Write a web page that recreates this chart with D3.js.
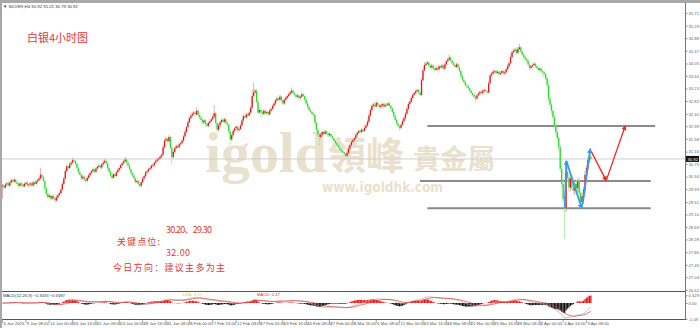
<!DOCTYPE html>
<html><head><meta charset="utf-8">
<script src="https://cdn.jsdelivr.net/npm/d3@7"></script>
<style>body{margin:0;background:#fff}svg{display:block}</style>
</head><body>
<svg id="c" width="700" height="328"></svg>
<script>
// ---------- data ----------
const firstOpen = 30.02;
const closes = [
30.05,29.98,30.08,30.12,30.05,30.15,30.22,30.18,30.24,30.16,
30.10,30.04,30.12,30.08,30.02,30.10,30.14,30.06,30.08,30.12,
30.05,30.15,30.10,30.18,30.22,30.28,30.40,30.33,30.20,29.95,
29.78,29.67,29.72,29.62,29.70,29.64,29.56,29.66,29.74,29.80,
29.92,30.10,30.28,30.52,30.68,30.62,30.74,30.80,30.88,30.84,
30.76,30.62,30.48,30.40,30.28,30.34,30.24,30.20,30.30,30.38,
30.46,30.52,30.58,30.50,30.60,30.66,30.70,30.64,30.74,30.80,
30.86,30.78,30.62,30.50,30.38,30.30,30.42,30.36,30.48,30.56,
30.62,30.72,30.78,30.84,30.90,30.80,30.70,30.58,30.46,30.38,
30.28,30.16,30.20,30.10,30.04,30.16,30.28,30.36,30.48,30.52,
30.58,30.62,30.70,30.72,30.80,30.86,30.90,30.94,31.00,31.06,
31.30,31.52,31.58,31.50,31.64,31.30,30.98,31.15,31.28,31.34,
31.30,31.40,31.44,31.52,31.66,31.80,31.96,32.12,32.26,32.34,
32.40,32.44,32.38,32.50,32.36,32.28,32.20,32.12,32.18,32.06,
32.00,32.10,32.16,32.22,32.30,32.42,32.10,31.88,32.02,32.12,
32.20,32.14,32.22,32.10,32.04,31.82,31.56,31.70,31.84,31.92,
31.98,31.86,31.90,32.02,32.18,32.32,32.28,32.38,32.34,32.44,
32.60,32.98,33.10,33.16,32.80,32.44,32.52,32.46,32.40,32.50,
32.42,32.46,32.38,32.50,32.56,32.66,32.74,32.84,32.90,32.86,
32.96,32.84,32.74,32.86,32.92,32.98,33.04,33.10,33.16,33.08,
33.02,32.96,33.00,32.92,32.96,33.04,32.98,32.86,32.74,32.62,
32.52,32.46,32.40,32.36,32.10,31.88,31.72,31.64,31.72,31.80,
31.74,31.82,31.76,31.70,31.74,31.66,31.60,31.52,31.44,31.38,
31.30,31.24,31.18,31.14,31.08,31.02,31.12,31.26,31.38,31.48,
31.54,31.60,31.70,31.78,31.84,31.80,31.88,31.84,31.94,32.02,
32.14,32.34,32.52,32.66,32.70,32.64,32.76,32.70,32.62,32.66,
32.72,32.64,32.70,32.68,32.74,32.66,32.58,32.46,32.32,32.20,
32.08,32.00,31.94,32.04,32.16,32.26,32.40,32.56,32.72,32.80,
32.92,33.02,33.08,33.14,33.18,33.10,33.02,33.50,33.82,34.00,
34.04,34.08,33.98,33.92,33.98,33.88,33.84,33.90,33.86,33.96,
33.92,33.98,33.88,34.02,34.12,34.18,34.24,34.14,34.06,34.00,
33.94,34.02,33.92,33.80,33.64,33.52,33.44,33.34,33.30,33.24,
33.16,33.08,33.02,32.96,32.90,33.00,33.06,33.12,33.08,33.16,
33.18,33.14,33.10,33.40,33.66,33.72,33.78,33.80,33.74,33.78,
33.70,33.74,33.80,33.72,33.76,33.86,33.96,34.06,34.26,34.42,
34.46,34.50,34.40,34.52,34.58,34.44,34.34,34.26,34.20,34.14,
34.02,33.90,33.96,34.00,34.04,33.96,33.90,33.84,33.88,33.80,
33.76,33.70,33.56,33.34,32.90,32.70,32.50,32.30,32.00,31.80,
31.60,31.30,30.60,30.10,29.60,29.30,30.50,30.30,29.98,30.28,
30.00,29.88,30.10,29.96,30.18,29.80,29.50,29.70,29.92,30.40,
30.62,30.88,31.00,30.92];
// upper / lower wick lengths, in cents
const upperWick = [
5,3,6,4,7,3,5,4,6,3,4,5,3,6,4,5,3,7,4,5,
4,6,3,5,4,6,22,5,4,3,5,4,6,3,5,4,3,6,4,5,
3,6,5,8,6,4,7,5,8,4,5,3,4,6,3,5,4,3,6,5,
4,5,6,3,5,4,6,5,4,7,6,4,3,5,4,3,6,4,5,6,
5,4,6,5,8,4,3,5,4,3,5,4,3,4,3,5,6,4,5,4,
5,6,4,5,3,6,5,4,6,5,8,6,7,4,6,3,5,6,4,5,
4,5,3,6,5,7,4,6,5,4,6,5,4,10,3,4,5,3,5,4,
5,4,6,5,8,26,4,3,6,5,4,5,6,3,4,3,5,4,6,5,
4,3,5,6,5,7,4,5,6,5,8,20,30,6,4,3,5,4,6,5,
4,5,3,6,5,4,6,5,7,4,6,3,4,5,6,5,4,6,10,4,
5,4,6,3,5,6,4,3,5,4,5,4,3,4,3,5,4,6,5,4,
5,6,4,3,5,4,3,5,4,3,4,5,3,4,3,5,6,5,6,4,
5,4,6,5,4,6,5,4,6,5,8,6,7,5,8,4,6,5,4,6,
5,4,6,5,4,6,3,4,3,4,5,3,4,5,6,5,6,7,6,5,
6,5,4,6,5,4,3,8,10,8,6,5,4,5,6,4,5,6,4,5,
4,6,5,6,5,7,10,5,4,6,5,6,4,3,4,3,5,4,3,4,
5,4,3,4,5,6,5,4,6,5,4,5,3,8,6,5,6,4,5,6,
4,6,5,4,6,5,7,6,8,6,7,5,6,7,12,4,3,4,5,4,
5,6,4,5,6,4,5,4,6,5,4,5,4,6,8,10,6,5,6,8,
10,8,10,12,10,15,30,15,12,14,10,12,10,12,10,14,10,12,10,12,
10,12,20,8];
const lowerWick = [
40,5,3,6,4,5,3,6,4,5,3,4,6,5,4,3,5,4,6,3,
5,4,6,3,5,4,5,6,4,8,6,5,4,6,5,6,10,4,5,3,
5,4,3,5,4,6,3,5,4,5,6,5,4,3,6,4,5,6,3,4,
5,3,4,6,5,3,4,6,5,3,4,5,6,4,5,6,3,5,4,3,
5,4,3,5,4,6,5,4,6,5,4,5,3,5,6,4,5,3,4,5,
4,3,5,4,6,3,4,5,3,4,5,3,4,6,3,5,22,4,5,3,
5,4,6,3,4,5,3,4,3,5,4,6,5,4,6,5,4,6,3,5,
4,5,3,4,5,4,6,10,4,5,3,5,4,6,5,8,18,5,4,5,
4,6,5,3,4,5,3,4,5,3,5,4,3,5,6,5,4,20,5,4,
5,4,6,3,5,4,3,5,4,6,3,5,6,4,3,5,4,3,5,4,
3,5,4,6,5,3,4,5,6,5,4,5,4,3,6,8,5,30,6,4,
5,3,4,6,5,4,5,6,4,5,4,5,6,4,6,14,4,3,5,4,
5,4,3,5,4,6,3,5,4,3,4,5,3,4,5,6,4,5,6,4,
5,3,4,5,3,4,6,5,6,5,6,4,10,5,3,4,5,3,4,5,
4,5,3,5,4,6,5,4,3,4,5,4,6,5,4,6,5,4,6,5,
5,4,6,5,4,3,5,4,6,5,4,5,6,5,6,5,4,5,6,5,
4,5,6,5,12,4,3,5,4,5,4,5,6,3,4,5,4,6,5,4,
5,4,6,5,4,3,4,5,3,4,5,4,6,5,4,6,5,4,6,5,
5,6,4,5,4,6,5,4,5,6,16,5,6,8,10,12,10,8,6,10,
12,14,12,15,12,100,12,15,14,12,10,12,14,10,12,15,20,12,10,12,
10,8,10,12];
const priceTicks = [35.71,35.29,34.88,34.47,34.05,33.64,33.23,32.82,32.40,31.99,31.58,31.16,30.75,30.34,29.93,29.51,29.10,28.69,28.28,27.86,27.45,27.04,26.62];
const timeLabels = ["6 Jan 2025","9 Jan 08:00","14 Jan 00:00","16 Jan 16:00","21 Jan 08:00","24 Jan 00:00","28 Jan 16:00","31 Jan 08:00","5 Feb 00:00","7 Feb 16:00","12 Feb 08:00","17 Feb 00:00","19 Feb 16:00","24 Feb 08:00","27 Feb 00:00","3 Mar 16:00","6 Mar 08:00","11 Mar 00:00","13 Mar 16:00","18 Mar 08:00","21 Mar 00:00","25 Mar 16:00","28 Mar 08:00","2 Apr 00:00","4 Apr 16:00","9 Apr 08:00"];
const barsPerLabel = 16;
const levels = [32.00, 30.20, 29.30];
const levelFrom = [291, 286, 291];
const levelTo = [447, 444, 444];
const blueArrows = [[[385.1,29.35],[386.2,30.85]],[[386.2,30.85],[396.8,29.30]],[[397.4,29.45],[402.6,31.25]]];
const redArrows = [[[403.3,31.16],[413.5,30.21]],[[413.5,30.21],[426.5,32.00]]];
const macdTicks = [0.529, 0.00, -1.09];
const headerText = "▼ SILVER,H4  30.92 31.21 30.79 30.92";
const lastPrice = 30.92;

// ---------- scales ----------
const svg = d3.select("#c");
const x = d3.scaleLinear().domain([0, 100]).range([2.5, 148.5]);
const y = d3.scaleLinear().domain([26, 36]).range([309, 4]);
const ym = d3.scaleLinear().domain([-1, 1]).range([317.5, 288.5]);
const axisX = 685;

// frame
svg.append("rect").attr("x",0).attr("y",0).attr("width",700).attr("height",3).attr("fill","#a8a8a8");
svg.append("rect").attr("x",0).attr("y",0).attr("width",2).attr("height",328).attr("fill","#a8a8a8");

// watermark
const wm = svg.append("g").attr("fill","#e9e1ce");
wm.append("text").attr("x",205).attr("y",172).attr("font-family","Liberation Serif").attr("font-weight","bold").attr("font-size",58).attr("textLength",122).attr("lengthAdjust","spacingAndGlyphs").text("igold");
wm.append("text").attr("x",328).attr("y",169).attr("font-family","Noto Sans CJK TC").attr("font-weight","bold").attr("font-size",38).attr("textLength",76).attr("lengthAdjust","spacingAndGlyphs").text("領峰");
wm.append("text").attr("x",413).attr("y",169).attr("font-family","Noto Sans CJK TC").attr("font-weight","bold").attr("font-size",27).attr("textLength",82).attr("lengthAdjust","spacingAndGlyphs").text("貴金屬");
wm.append("text").attr("x",322).attr("y",192).attr("font-family","DejaVu Sans").attr("font-weight","bold").attr("font-size",14).attr("textLength",121).attr("lengthAdjust","spacingAndGlyphs").text("www.igoldhk.com");

// bid line
svg.append("line").attr("x1",2).attr("x2",axisX).attr("y1",y(lastPrice)).attr("y2",y(lastPrice)).attr("stroke","#cfcfcf").attr("stroke-width",1);

// level lines
svg.append("g").selectAll("line").data(levels).join("line")
  .attr("x1",(d,i)=>x(levelFrom[i])).attr("x2",(d,i)=>x(levelTo[i]))
  .attr("y1",d=>y(d)).attr("y2",d=>y(d)).attr("stroke","#8a8a8a").attr("stroke-width",2);

// candles
const bars = closes.map((c,i)=>{
  const o = i===0 ? firstOpen : closes[i-1];
  return {i,o,c,h:Math.max(o,c)+upperWick[i]/100,l:Math.min(o,c)-lowerWick[i]/100};
});
const UP="#e01818", DN="#2ed82e";
const cg = svg.append("g");
cg.selectAll("line").data(bars).join("line")
  .attr("x1",d=>x(d.i)).attr("x2",d=>x(d.i)).attr("y1",d=>y(d.h)).attr("y2",d=>y(d.l))
  .attr("stroke",d=>d.c>=d.o?"#eaa0a0":"#a8eaa8").attr("stroke-width",0.9);
cg.selectAll("rect").data(bars).join("rect")
  .attr("x",d=>x(d.i)-0.65).attr("width",1.3)
  .attr("y",d=>y(Math.max(d.o,d.c))).attr("height",d=>Math.max(0.8,Math.abs(y(d.o)-y(d.c))))
  .attr("fill",d=>d.c>=d.o?UP:DN);

// arrows
const defs = svg.append("defs");
function marker(id,color,size){
  defs.append("marker").attr("id",id).attr("viewBox","0 0 10 10").attr("refX",8).attr("refY",5)
    .attr("markerWidth",size).attr("markerHeight",size).attr("orient","auto-start-reverse")
    .append("path").attr("d","M0,0 L10,5 L0,10 z").attr("fill",color);
}
marker("ab","#3a9af0",3);
marker("ar","#f02828",4);
svg.append("g").selectAll("line").data(blueArrows).join("line")
  .attr("x1",d=>x(d[0][0])).attr("y1",d=>y(d[0][1])).attr("x2",d=>x(d[1][0])).attr("y2",d=>y(d[1][1]))
  .attr("stroke","#3a9af0").attr("stroke-width",1.8).attr("marker-end","url(#ab)");
svg.append("g").selectAll("line").data(redArrows).join("line")
  .attr("x1",d=>x(d[0][0])).attr("y1",d=>y(d[0][1])).attr("x2",d=>x(d[1][0])).attr("y2",d=>y(d[1][1]))
  .attr("stroke","#f02828").attr("stroke-width",1.3).attr("marker-end","url(#ar)");

// right axis
svg.append("line").attr("x1",axisX+0.5).attr("x2",axisX+0.5).attr("y1",3).attr("y2",320).attr("stroke","#777");
const ra = svg.append("g").attr("transform",`translate(${axisX+0.5},0)`)
  .call(d3.axisRight(y).tickValues(priceTicks).tickSize(2).tickFormat(d3.format(".2f")));
ra.select(".domain").remove();
ra.selectAll("line").attr("stroke","#888");
ra.selectAll("text").attr("font-family","Liberation Sans").attr("font-size",4.2).attr("fill","#666").attr("x",3);
// price box
svg.append("rect").attr("x",axisX+1).attr("y",y(lastPrice)-3).attr("width",13).attr("height",6).attr("fill","#111");
svg.append("text").attr("x",axisX+2.5).attr("y",y(lastPrice)+1.6).attr("font-family","Liberation Sans").attr("font-size",4.2).attr("fill","#fff").text(d3.format(".2f")(lastPrice));

// header
svg.append("text").attr("x",3).attr("y",8).attr("font-family","Liberation Sans").attr("font-size",4.3).attr("fill","#333").text(headerText);

// title + notes
const red="#e03a3a";
svg.append("text").attr("x",27).attr("y",42).attr("font-family","Noto Sans CJK SC").attr("font-size",11).attr("fill",red).attr("textLength",61).text("白银4小时图");
const notes=[["30.20、29.30",166,233,46],["关键点位:",117,245,43],["32.00",166,256,24],["今日方向：建议主多为主",113,271,112]];
svg.append("g").selectAll("text").data(notes).join("text")
  .attr("x",d=>d[1]).attr("y",d=>d[2]).attr("textLength",d=>d[3]).attr("lengthAdjust","spacing")
  .attr("font-family","Noto Sans CJK SC").attr("font-size",9).attr("fill",red).text(d=>d[0]);

// MACD panel
svg.append("line").attr("x1",2).attr("x2",axisX).attr("y1",291.5).attr("y2",291.5).attr("stroke","#555");
svg.append("line").attr("x1",2).attr("x2",axisX+1).attr("y1",319.5).attr("y2",319.5).attr("stroke","#555");
function ema(arr,n){const k=2/(n+1);let out=[],e=arr[0];arr.forEach((v,i)=>{e=i===0?v:v*k+e*(1-k);out.push(e);});return out;}
const e12=ema(closes,12), e26=ema(closes,26);
const dif=e12.map((v,i)=>v-e26[i]);
const dea=ema(dif,9);
const hist=dif.map((v,i)=>2*(v-dea[i]));
const clamp=v=>Math.max(292,Math.min(319,v));
const mg=svg.append("g");
mg.selectAll("rect").data(hist).join("rect")
  .attr("x",(d,i)=>x(i)-0.65).attr("width",1.3)
  .attr("y",d=>clamp(Math.min(ym(d),ym(0)))).attr("height",d=>Math.abs(clamp(ym(d))-ym(0)))
  .attr("fill",d=>d>=0?"#f01010":"#111");
const ln=d3.line().x((d,i)=>x(i)).y(d=>clamp(ym(d)));
mg.append("path").datum(dif).attr("d",ln).attr("fill","none").attr("stroke","#aaa").attr("stroke-width",0.7);
mg.append("path").datum(dea).attr("d",ln).attr("fill","none").attr("stroke","#e03030").attr("stroke-width",0.7);
svg.append("text").attr("x",3).attr("y",297).attr("font-family","Liberation Sans").attr("font-size",4.2).attr("fill","#333")
  .text("MACD(12,26,9) "+d3.format(".4f")(dif[dif.length-1])+" "+d3.format(".4f")(dea[dea.length-1]));
svg.append("text").attr("x",183).attr("y",296).attr("font-family","Liberation Sans").attr("font-size",4.2).attr("fill","#e0d020").text("DEA:   0.57");
svg.append("text").attr("x",257).attr("y",296).attr("font-family","Liberation Sans").attr("font-size",4.2).attr("fill","#e03030").text("MACD:   0.47");
const ma = svg.append("g").attr("transform",`translate(${axisX+0.5},0)`)
  .call(d3.axisRight(ym).tickValues(macdTicks).tickSize(2).tickFormat(d=>d===0?"0.00":String(d)));
ma.select(".domain").remove();
ma.selectAll("line").attr("stroke","#888");
ma.selectAll("text").attr("font-family","Liberation Sans").attr("font-size",4.2).attr("fill","#666").attr("x",3);

// time axis
const tg = svg.append("g").selectAll("g").data(timeLabels).join("g")
  .attr("transform",(d,k)=>`translate(${x(k*barsPerLabel)},0)`);
tg.append("line").attr("x1",0).attr("x2",0).attr("y1",320).attr("y2",323).attr("stroke","#777").attr("stroke-width",0.6);
tg.append("text").attr("x",1).attr("y",324.5).attr("font-family","Liberation Sans").attr("font-size",4.2).attr("fill","#555").text(d=>d);
</script>
</body></html>
